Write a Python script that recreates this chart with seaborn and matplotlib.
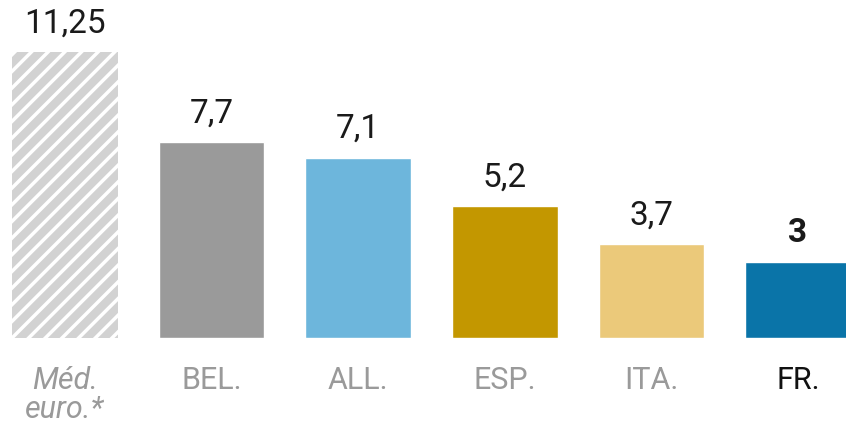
import matplotlib
matplotlib.use("Agg")
import matplotlib.pyplot as plt
import seaborn as sns
import pandas as pd

categories = ["Méd.\neuro.*", "BEL.", "ALL.", "ESP.", "ITA.", "FR."]
values = [11.25, 7.7, 7.1, 5.2, 3.7, 3.0]
value_labels = ["11,25", "7,7", "7,1", "5,2", "3,7", "3"]
bar_colors = ["#d2d2d2", "#9a9a9a", "#6db6dc", "#c39700", "#ebc97a", "#0a74a8"]
tick_colors = ["#9a9a9a", "#9a9a9a", "#9a9a9a", "#9a9a9a", "#9a9a9a", "#111111"]

sns.set_theme(style="white")
plt.rcParams["font.family"] = ["Roboto", "DejaVu Sans"]
plt.rcParams["hatch.color"] = "white"
plt.rcParams["hatch.linewidth"] = 2.5

df = pd.DataFrame({"cat": categories, "val": values})

fig = plt.figure(figsize=(8.46, 4.25), dpi=100)
ax = fig.add_axes([0, 87 / 425, 1, 338 / 425])

sns.barplot(data=df, x="cat", y="val", hue="cat", palette=bar_colors,
            width=0.72, legend=False, ax=ax, saturation=1)

# hatched median bar
first = ax.patches[0]
first.set_hatch("//")
first.set_edgecolor("white")
first.set_linewidth(0)

ax.set_xlim(-0.443, 5.327)
ax.set_ylim(0, 13.31)
sns.despine(ax=ax, left=True, bottom=True)
ax.set_yticks([])
ax.set_xlabel("")
ax.set_ylabel("")

ax.tick_params(axis="x", length=0, pad=20, labelsize=22)
for lab, col in zip(ax.get_xticklabels(), tick_colors):
    lab.set_color(col)
    lab.set_verticalalignment("top")
    lab.set_multialignment("center")
    lab.set_linespacing(1.0)
ax.get_xticklabels()[0].set_style("italic")

for i, (v, t) in enumerate(zip(values, value_labels)):
    ax.text(i, v + 0.5, t, ha="center", va="bottom", fontsize=24,
            color="#1a1a1a", fontweight="bold" if i == len(values) - 1 else "normal")

fig.savefig("out.png", dpi=100, facecolor="white")
